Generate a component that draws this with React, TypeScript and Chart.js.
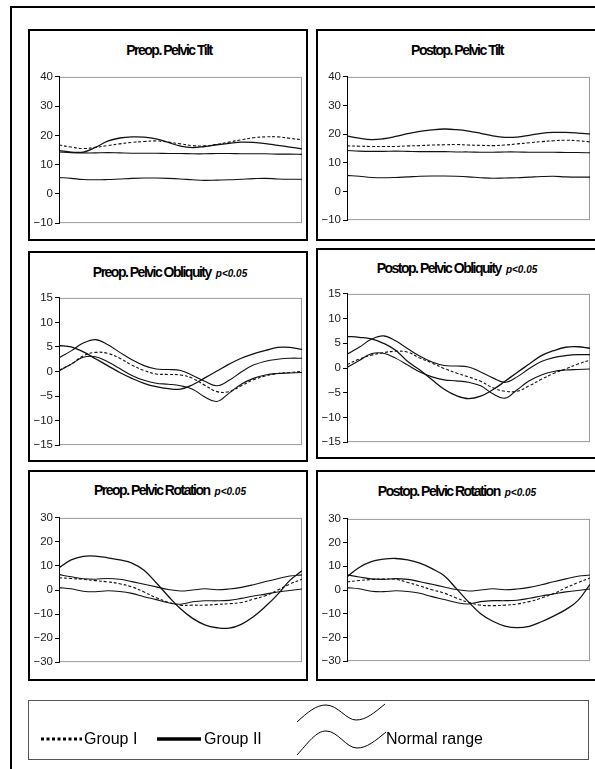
import React, { useEffect, useRef } from "react";
import { Chart, registerables } from "chart.js";

Chart.register(...registerables);

// % of gait cycle
const gaitCycle = [0, 5, 10, 15, 20, 25, 30, 35, 40, 45, 50, 55, 60, 65, 70, 75, 80, 85, 90, 95, 100];

// ---- Pelvic tilt ----
const tiltNormalUpper = [14.3, 14.1, 14.0, 14.0, 14.1, 14.0, 13.9, 13.9, 13.9, 13.8, 13.8, 13.7, 13.7, 13.8, 13.8, 13.7, 13.7, 13.7, 13.6, 13.6, 13.5];
const tiltNormalLower = [5.6, 5.3, 4.9, 4.8, 4.9, 5.1, 5.3, 5.4, 5.4, 5.3, 5.1, 4.8, 4.6, 4.7, 4.8, 5.0, 5.2, 5.3, 5.1, 5.0, 5.0];
const preTiltGroup1 = [16.7, 16.0, 15.5, 15.9, 16.5, 17.1, 17.6, 17.9, 18.1, 17.7, 17.1, 16.5, 16.4, 16.9, 17.7, 18.5, 19.2, 19.5, 19.5, 19.0, 18.5];
const preTiltGroup2 = [14.8, 14.3, 14.3, 15.9, 18.0, 19.1, 19.5, 19.4, 18.8, 17.6, 16.3, 15.8, 16.2, 16.8, 17.3, 17.7, 17.6, 17.2, 16.6, 16.0, 15.4];
const postTiltGroup1 = [15.9, 15.8, 15.7, 15.7, 15.7, 15.9, 16.0, 16.2, 16.3, 16.4, 16.2, 16.1, 16.0, 16.2, 16.6, 17.0, 17.4, 17.7, 17.9, 17.7, 17.3];
const postTiltGroup2 = [19.4, 18.6, 18.1, 18.4, 19.2, 20.2, 21.0, 21.5, 21.8, 21.6, 21.1, 20.3, 19.4, 18.9, 19.0, 19.6, 20.3, 20.6, 20.6, 20.4, 20.1];

// ---- Pelvic obliquity ----
const obliqNormalUpper = [2.8, 4.2, 5.8, 6.5, 5.5, 3.9, 2.4, 1.2, 0.5, 0.4, 0.2, -0.8, -2.0, -2.9, -1.8, -0.1, 1.3, 2.1, 2.5, 2.7, 2.7];
const obliqNormalLower = [0.1, 1.5, 2.9, 3.0, 2.0, 0.6, -0.8, -1.8, -2.4, -2.6, -2.9, -3.6, -5.2, -6.1, -4.4, -2.6, -1.4, -0.7, -0.4, -0.3, -0.2];
const preObliqGroup1 = [0.3, 1.5, 3.2, 3.9, 3.7, 2.7, 1.3, 0.2, -0.5, -0.6, -0.7, -1.4, -2.8, -4.1, -4.1, -2.9, -1.7, -0.9, -0.4, -0.2, 0.0];
const preObliqGroup2 = [5.3, 5.0, 4.0, 2.6, 1.2, -0.2, -1.4, -2.4, -3.1, -3.5, -3.6, -2.7, -1.3, 0.1, 1.5, 2.7, 3.6, 4.3, 4.9, 4.9, 4.5];
const postObliqGroup1 = [0.7, 1.8, 2.6, 3.1, 3.4, 3.2, 2.0, 1.0, -0.1, -1.0, -1.8, -2.7, -4.0, -4.7, -4.7, -3.6, -2.3, -1.1, -0.2, 0.8, 1.6];
const postObliqGroup2 = [6.4, 6.2, 5.9, 5.0, 3.6, 1.3, -0.4, -2.4, -4.3, -5.6, -6.2, -5.7, -4.4, -2.7, -0.9, 0.8, 2.5, 3.5, 4.2, 4.3, 4.0];

// ---- Pelvic rotation ----
const rotNormalUpper = [6.4, 5.5, 4.7, 4.5, 4.8, 4.5, 3.5, 2.4, 1.3, 0.2, -0.4, 0.0, 0.5, 0.1, 0.4, 1.1, 2.2, 3.5, 4.7, 5.8, 6.3];
const rotNormalLower = [1.0, 0.5, -0.5, -0.7, -0.3, -0.6, -1.4, -2.8, -4.0, -5.3, -5.9, -4.9, -4.5, -4.5, -4.3, -3.5, -2.5, -1.7, -0.8, -0.2, 0.4];
const preRotGroup1 = [5.1, 4.8, 4.4, 3.9, 3.4, 2.6, 1.3, -0.8, -3.2, -5.1, -6.3, -6.3, -6.3, -6.0, -5.7, -5.2, -3.8, -2.4, 0.0, 2.5, 4.5];
const preRotGroup2 = [9.2, 12.5, 14.0, 14.1, 13.4, 12.5, 11.2, 8.2, 3.0, -2.6, -7.8, -11.8, -14.5, -15.7, -15.9, -14.3, -11.1, -6.8, -1.8, 4.0, 8.0];
const postRotGroup1 = [3.4, 4.0, 4.4, 4.6, 4.5, 3.2, 1.7, 0.1, -1.3, -3.4, -5.2, -6.4, -6.6, -6.4, -5.9, -4.9, -3.4, -1.5, 0.9, 3.1, 5.1];
const postRotGroup2 = [5.5, 9.5, 12.0, 13.0, 13.3, 12.7, 11.3, 9.0, 6.0, 0.6, -5.0, -10.0, -13.2, -15.2, -15.9, -15.3, -13.4, -11.0, -8.3, -4.5, 2.4];

const legendLabels = ["Group I", "Group II", "Normal range"];

const FONT = 'Arial, "Liberation Sans", Helvetica, sans-serif';

const framePlugin = {
  id: "plotFrame",
  beforeDraw(chart: any) {
    const { ctx, chartArea: a } = chart;
    if (!a) return;
    ctx.save();
    ctx.fillStyle = "#ffffff";
    ctx.fillRect(a.left, a.top, a.right - a.left, a.bottom - a.top);
    ctx.strokeStyle = "#9a9a9a";
    ctx.lineWidth = 1;
    ctx.strokeRect(a.left + 0.5, a.top + 0.5, a.right - a.left - 1, a.bottom - a.top - 1);
    ctx.restore();
  },
};

type PanelProps = {
  plot: { left: number; right: number; top: number; bottom: number };
  yMin: number;
  yMax: number;
  step: number;
  upper: number[];
  lower: number[];
  g1: number[];
  g2: number[];
};

const AXIS_W = 30;
const PAD = 8;

function Panel({ plot, yMin, yMax, step, upper, lower, g1, g2 }: PanelProps) {
  const ref = useRef<HTMLCanvasElement | null>(null);
  useEffect(() => {
    if (!ref.current) return;
    const pts = (arr: number[]) => gaitCycle.map((x, i) => ({ x, y: arr[i] }));
    const base = { pointRadius: 0, tension: 0.4, fill: false, borderColor: "#111" };
    const chart = new Chart(ref.current, {
      type: "line",
      data: {
        datasets: [
          { ...base, label: "Normal upper", data: pts(upper), borderWidth: 1.1 },
          { ...base, label: "Normal lower", data: pts(lower), borderWidth: 1.1 },
          { ...base, label: "Group I", data: pts(g1), borderWidth: 1.1, borderDash: [3, 2] },
          { ...base, label: "Group II", data: pts(g2), borderWidth: 1.3 },
        ],
      },
      options: {
        animation: false,
        responsive: false,
        maintainAspectRatio: false,
        events: [],
        layout: { padding: { top: PAD, bottom: PAD, left: 0, right: 3 } },
        plugins: { legend: { display: false }, tooltip: { enabled: false }, title: { display: false } },
        scales: {
          x: { type: "linear", min: 0, max: 100, display: false },
          y: {
            min: yMin,
            max: yMax,
            ticks: {
              stepSize: step,
              color: "#222",
              padding: 2,
              font: { family: FONT, size: 11.5 },
              callback: (v: any) => String(v).replace("-", "\u2212"),
            },
            grid: { display: true, drawOnChartArea: false, drawTicks: true, tickLength: 4, color: "#000", lineWidth: 1 },
            border: { display: true, color: "#000", width: 1 },
            afterFit: (s: any) => {
              s.width = AXIS_W;
            },
          },
        },
      } as any,
      plugins: [framePlugin],
    });
    return () => chart.destroy();
  }, []);
  const w = plot.right - plot.left + AXIS_W + 3;
  const h = plot.bottom - plot.top + PAD * 2;
  return (
    <canvas
      ref={ref}
      width={w}
      height={h}
      style={{ position: "absolute", left: plot.left - AXIS_W, top: plot.top - PAD, width: w, height: h }}
    />
  );
}

function Box({ left, top, right, bottom }: { left: number; top: number; right: number; bottom: number }) {
  return (
    <div
      style={{
        position: "absolute",
        left,
        top,
        width: right - left,
        height: bottom - top,
        border: "2px solid #000",
        boxSizing: "border-box",
      }}
    />
  );
}

function Title({ cx, cy, text, sig }: { cx: number; cy: number; text: string; sig?: boolean }) {
  return (
    <div
      style={{
        position: "absolute",
        left: cx - 150,
        top: cy - 9,
        width: 300,
        textAlign: "center",
        whiteSpace: "nowrap",
        fontFamily: FONT,
        fontWeight: "bold",
        fontSize: 14,
        lineHeight: "18px",
        letterSpacing: "-1.5px",
        color: "#000",
      }}
    >
      {text}
      {sig ? (
        <span style={{ fontStyle: "italic", fontSize: 10, letterSpacing: "0px", marginLeft: 5 }}>p&lt;0.05</span>
      ) : null}
    </div>
  );
}

export default function App() {
  const L = { left: 59, right: 302 };
  const R = { left: 347, right: 590 };
  return (
    <div style={{ position: "absolute", left: 0, top: 0, width: 595, height: 769, overflow: "hidden", background: "#fff" }}>
      {/* outer frame */}
      <div style={{ position: "absolute", left: 10, top: 6, width: 620, height: 820, border: "2px solid #000", boxSizing: "border-box" }} />

      <Box left={28} top={29} right={308} bottom={241} />
      <Box left={316} top={29} right={600} bottom={241} />
      <Box left={28} top={251} right={308} bottom={462} />
      <Box left={316} top={248} right={600} bottom={459} />
      <Box left={28} top={470} right={308} bottom={681} />
      <Box left={316} top={470} right={600} bottom={681} />

      <Title cx={169} cy={50} text="Preop. Pelvic Tilt" />
      <Title cx={457} cy={50} text="Postop. Pelvic Tilt" />
      <Title cx={170} cy={272} text="Preop. Pelvic Obliquity" sig />
      <Title cx={457} cy={268} text="Postop. Pelvic Obliquity" sig />
      <Title cx={170} cy={490} text="Preop. Pelvic Rotation" sig />
      <Title cx={457} cy={491} text="Postop. Pelvic Rotation" sig />

      <Panel plot={{ ...L, top: 76, bottom: 224 }} yMin={-10} yMax={40} step={10}
        upper={tiltNormalUpper} lower={tiltNormalLower} g1={preTiltGroup1} g2={preTiltGroup2} />
      <Panel plot={{ ...R, top: 76, bottom: 221 }} yMin={-10} yMax={40} step={10}
        upper={tiltNormalUpper} lower={tiltNormalLower} g1={postTiltGroup1} g2={postTiltGroup2} />
      <Panel plot={{ ...L, top: 297, bottom: 446 }} yMin={-15} yMax={15} step={5}
        upper={obliqNormalUpper} lower={obliqNormalLower} g1={preObliqGroup1} g2={preObliqGroup2} />
      <Panel plot={{ ...R, top: 293, bottom: 443 }} yMin={-15} yMax={15} step={5}
        upper={obliqNormalUpper} lower={obliqNormalLower} g1={postObliqGroup1} g2={postObliqGroup2} />
      <Panel plot={{ ...L, top: 517, bottom: 663 }} yMin={-30} yMax={30} step={10}
        upper={rotNormalUpper} lower={rotNormalLower} g1={preRotGroup1} g2={preRotGroup2} />
      <Panel plot={{ ...R, top: 518, bottom: 662 }} yMin={-30} yMax={30} step={10}
        upper={rotNormalUpper} lower={rotNormalLower} g1={postRotGroup1} g2={postRotGroup2} />

      {/* legend */}
      <div style={{ position: "absolute", left: 28, top: 700, width: 561, height: 60, border: "1px solid #555", boxSizing: "border-box" }} />
      <svg style={{ position: "absolute", left: 0, top: 0 }} width={595} height={769}>
        <line x1={41} y1={739} x2={82} y2={739} stroke="#000" strokeWidth={3} strokeDasharray="3 2.5" />
        <line x1={157} y1={739} x2={201} y2={739} stroke="#000" strokeWidth={3.5} />
        <path d="M297,722 C308,712 316,705 326,705 C338,705 346,720 356,720 C366,720 374,713 385,704" fill="none" stroke="#000" strokeWidth={1} />
        <path d="M297,755 C308,743 316,731 326,731 C338,731 346,748 357,748 C367,748 375,741 386,732" fill="none" stroke="#000" strokeWidth={1} />
      </svg>
      {[
        { x: 84, t: legendLabels[0] },
        { x: 204, t: legendLabels[1] },
        { x: 386, t: legendLabels[2] },
      ].map((d) => (
        <div key={d.t} style={{ position: "absolute", left: d.x, top: 730, fontFamily: FONT, fontSize: 16, lineHeight: "18px", color: "#000", whiteSpace: "nowrap" }}>
          {d.t}
        </div>
      ))}
    </div>
  );
}
